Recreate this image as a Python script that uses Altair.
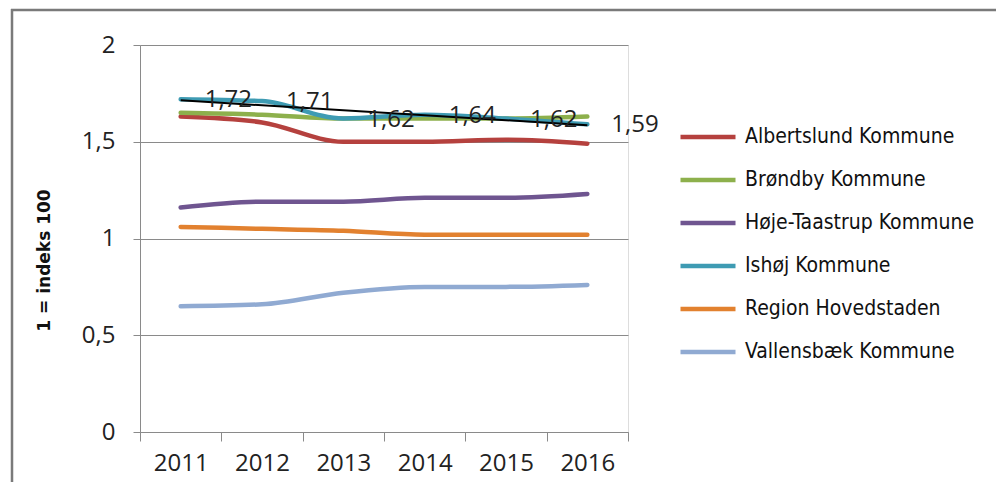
import altair as alt
import pandas as pd

years = [2011, 2012, 2013, 2014, 2015, 2016]
series_names = [
    "Albertslund Kommune",
    "Brøndby Kommune",
    "Høje-Taastrup Kommune",
    "Ishøj Kommune",
    "Region Hovedstaden",
    "Vallensbæk Kommune",
]
albertslund = [1.63, 1.60, 1.50, 1.50, 1.51, 1.49]
brondby = [1.65, 1.64, 1.62, 1.62, 1.62, 1.63]
hoje_taastrup = [1.16, 1.19, 1.19, 1.21, 1.21, 1.23]
ishoj = [1.72, 1.71, 1.62, 1.64, 1.62, 1.59]
region_hovedstaden = [1.06, 1.05, 1.04, 1.02, 1.02, 1.02]
vallensbaek = [0.65, 0.66, 0.72, 0.75, 0.75, 0.76]
series_colors = ["#B5413E", "#8DB04C", "#6F5590", "#3E9BB3", "#E2812F", "#90AAD2"]

y_ticks = [0, 0.5, 1, 1.5, 2]
y_title = "1 = indeks 100"
labelled_series = "Ishøj Kommune"

all_values = [albertslund, brondby, hoje_taastrup, ishoj, region_hovedstaden, vallensbaek]
rows = []
for name, vals in zip(series_names, all_values):
    for yr, v in zip(years, vals):
        rows.append({"year": yr, "series": name, "value": v})
df = pd.DataFrame(rows)

tick_font = "Open Sans"
grey = "#8a8a8a"

x_enc = alt.X(
    "year:O",
    scale=alt.Scale(type="band", paddingInner=0, paddingOuter=0, domain=years),
    axis=alt.Axis(
        title=None,
        tickBand="extent",
        labelAngle=0,
        labelFont=tick_font,
        labelFontSize=24,
        labelColor="#222222",
        labelPadding=10,
        tickSize=9,
        tickColor=grey,
        domainColor=grey,
        domainWidth=1,
        grid=False,
    ),
)
y_enc = alt.Y(
    "value:Q",
    scale=alt.Scale(domain=[0, 2], nice=False, zero=True),
    axis=alt.Axis(
        values=y_ticks,
        title=y_title,
        titleFont="DejaVu Sans",
        titleFontWeight="bold",
        titleFontSize=17,
        titleColor="#111111",
        titleX=-87,
        titleY=215,
        titleAngle=270,
        labelExpr="replace(format(datum.value, '~g'), '.', ',')",
        labelFont=tick_font,
        labelFontSize=24,
        labelColor="#222222",
        labelPadding=18,
        tickSize=7,
        tickColor=grey,
        domainColor=grey,
        grid=True,
        gridColor=grey,
        gridWidth=1,
    ),
)

base = alt.Chart(df)

lines = base.mark_line(strokeWidth=4.5, interpolate="monotone", strokeCap="round").encode(
    x=x_enc,
    y=y_enc,
    color=alt.Color(
        "series:N",
        scale=alt.Scale(domain=series_names, range=series_colors),
        legend=alt.Legend(
            title=None,
            orient="none",
            legendX=538,
            legendY=62,
            symbolType="stroke",
            symbolSize=3025,
            symbolStrokeWidth=4.5,
            labelFont="DejaVu Sans Condensed",
            labelFontSize=21,
            labelColor="#111111",
            labelOffset=7,
            labelLimit=400,
            rowPadding=3,
        ),
    ),
    order=alt.Order("series:N"),
)

trend = (
    base.transform_filter(alt.datum.series == labelled_series)
    .transform_regression("year", "value", method="linear")
    .mark_line(color="#000000", strokeWidth=2)
    .encode(x="year:O", y="value:Q")
)

labels = (
    base.transform_filter(alt.datum.series == labelled_series)
    .transform_calculate(lbl="replace(format(datum.value, '.2f'), '.', ',')")
    .mark_text(align="left", baseline="middle", dx=24, dy=1, font=tick_font, fontSize=24, color="#222222")
    .encode(x="year:O", y="value:Q", text="lbl:N")
)

frame_df = pd.DataFrame({"k": [0]})
frame_top = (
    alt.Chart(frame_df)
    .mark_rule(stroke="#7a7a7a", strokeWidth=2.5)
    .encode(x=alt.value(-129), x2=alt.value(900), y=alt.value(-35))
)
frame_left = (
    alt.Chart(frame_df)
    .mark_rule(stroke="#7a7a7a", strokeWidth=2.5)
    .encode(x=alt.value(-128), y=alt.value(-36), y2=alt.value(480))
)

chart = (
    alt.layer(frame_top, frame_left, lines, trend, labels)
    .properties(
        width=488,
        height=387,
        autosize=alt.AutoSizeParams(type="none"),
        padding={"left": 132, "top": 37, "right": 368, "bottom": 50},
    )
    .configure_view(stroke=None)
    .configure(background="white")
)

chart.save("out.html", embed_options={"renderer": "svg", "actions": False})
